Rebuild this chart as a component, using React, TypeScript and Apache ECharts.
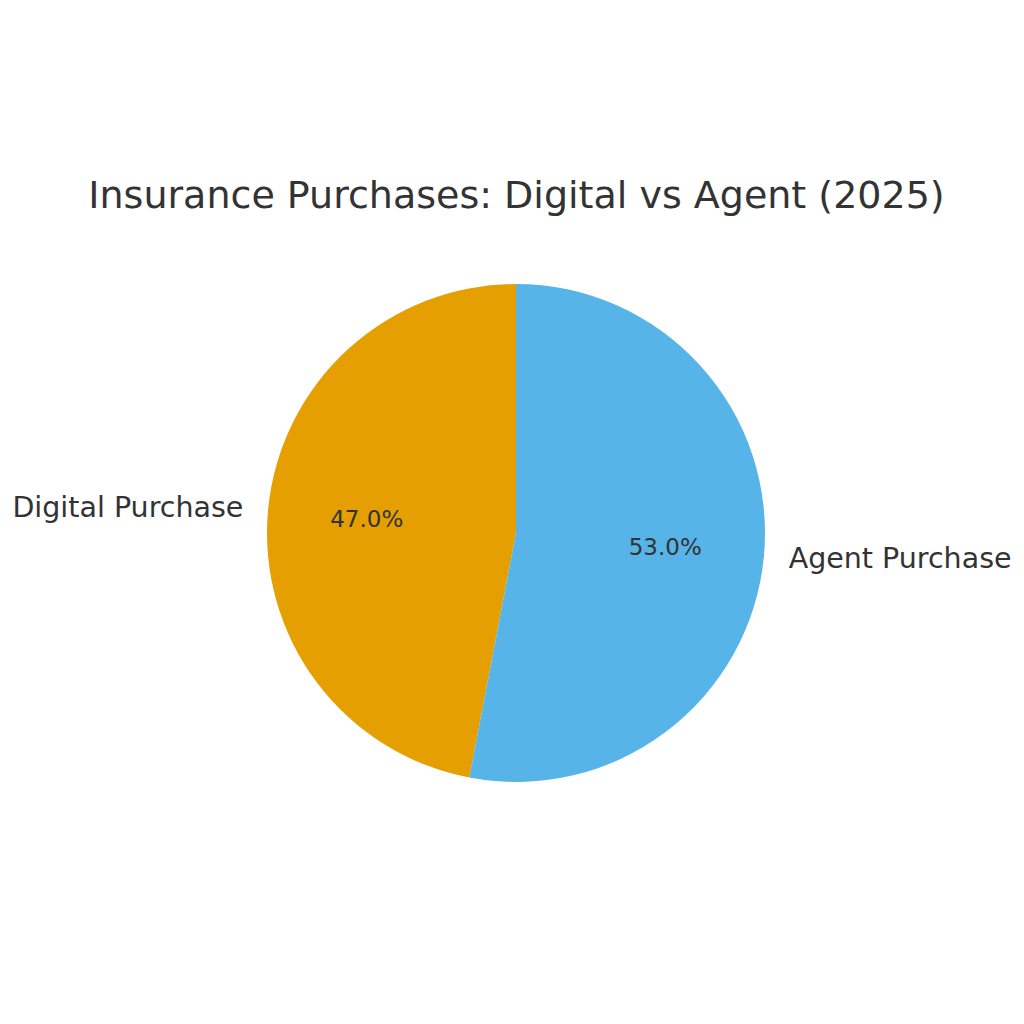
import * as echarts from "echarts";
import { useEffect, useRef } from "react";

const categories = ["Digital Purchase", "Agent Purchase"];
const shares = [47, 53];
const colors = ["#E69F00", "#56B4E9"];

const CX = 516;
const CY = 533;
const R = 249;

const getOptions = (): echarts.EChartsOption => {
  const data = categories.map((name, i) => ({
    name,
    value: shares[i],
    itemStyle: { color: colors[i] },
  }));
  return {
    animation: false,
    title: {
      text: "Insurance Purchases: Digital vs Agent (2025)",
      left: CX - 4.5,
      textAlign: "center",
      top: 171,
      textStyle: {
        fontFamily: "DejaVu Sans",
        fontSize: 38,
        fontWeight: "normal",
        color: "#333333",
      },
    },
    series: [
      {
        name: "Purchases",
        type: "pie",
        center: [CX, CY],
        radius: R,
        startAngle: 90,
        clockwise: false,
        avoidLabelOverlap: false,
        silent: true,
        itemStyle: { borderWidth: 0 },
        label: {
          show: true,
          position: "outside",
          formatter: "{b}",
          distanceToLabelLine: 0,
          fontFamily: "DejaVu Sans",
          fontSize: 28.5,
          color: "#333333",
        },
        labelLine: { show: false, length: R * 0.1, length2: 0 },
        data,
      },
      {
        // transparent ring, only used to place the percentage labels at 0.6 R
        name: "Percent",
        type: "pie",
        center: [CX, CY],
        radius: [R * 0.18, R],
        startAngle: 90,
        clockwise: false,
        avoidLabelOverlap: false,
        silent: true,
        itemStyle: { color: "transparent", borderWidth: 0 },
        label: {
          show: true,
          position: "inner",
          formatter: (p: any) => p.percent.toFixed(1) + "%",
          fontFamily: "DejaVu Sans",
          fontSize: 23,
          color: "#333333",
        },
        labelLine: { show: false },
        data: categories.map((name, i) => ({
          name,
          value: shares[i],
          itemStyle: { color: "transparent" },
        })),
      },
    ],
  };
};

const App = () => {
  const chartRef = useRef<HTMLDivElement | null>(null);

  useEffect(() => {
    document.body.style.margin = "0";
    if (!chartRef.current) return;
    const chart = echarts.init(chartRef.current, null, { renderer: "svg" });
    chart.setOption(getOptions());
    return () => {
      chart.dispose();
    };
  }, []);

  return (
    <div
      ref={chartRef}
      style={{ width: 1024, height: 1024, background: "#ffffff" }}
    />
  );
};

export default App;
